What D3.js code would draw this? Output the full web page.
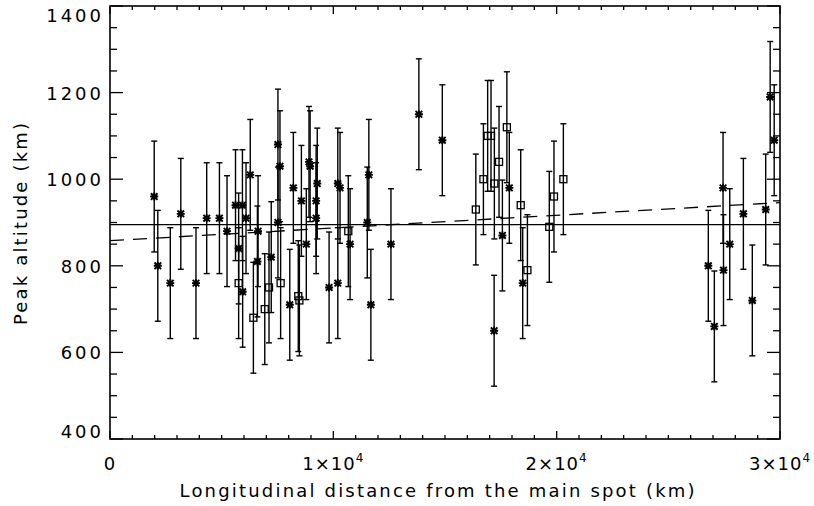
<!DOCTYPE html>
<html>
<head>
<meta charset="utf-8">
<script src="https://cdn.jsdelivr.net/npm/d3@7"></script>
<style>
  body { margin: 0; background: #fff; }
  text { font-family: "DejaVu Sans", sans-serif; fill: #000; }
</style>
</head>
<body>
<div id="container"></div>
<script>
// asterisk points: distance (km), peak altitude (km)
let starX = [1980, 2140, 2700, 3170, 3850, 4330, 4900, 5240, 5620, 5930, 5760, 5940,
  6090, 6280, 6630, 6600, 7220, 7520, 7610, 7520, 8050, 8210, 8570, 8790, 8910, 8960,
  9280, 9230, 9230, 9810, 10200, 10300, 10200, 10750, 11590, 11520, 11680, 12580,
  13830, 14880, 17880, 17570, 17200, 18480, 26790, 27060, 27450, 27470, 27750,
  28360, 28760, 29360, 29560, 29740];
let starY = [960, 800, 760, 920, 760, 910, 910, 880, 940, 940, 840, 740,
  910, 1010, 880, 810, 820, 1080, 1030, 900, 710, 980, 950, 850, 1040, 1030,
  990, 950, 910, 750, 990, 980, 760, 850, 1010, 900, 710, 850,
  1150, 1090, 980, 870, 650, 760, 800, 660, 980, 790, 850,
  920, 720, 930, 1190, 1090];
// square points
let squareX = [5760, 6420, 6930, 7120, 7640, 8430, 8480, 10670, 16380, 16720, 16910,
  17060, 17210, 17420, 17770, 18390, 18690, 19670, 19880, 20300];
let squareY = [760, 680, 700, 750, 760, 730, 720, 880, 930, 1000, 1100,
  1100, 990, 1040, 1120, 940, 790, 890, 960, 1000];
let errorBar = 128;          // +/- km on every point
let meanAltitude = 895;      // solid line
let fitLine = [[0, 858], [30000, 946]];  // dashed linear fit
let xTicks = [0, 10000, 20000, 30000];
let yTicks = [400, 600, 800, 1000, 1200, 1400];

let width = 814, height = 506;
let mLeft = 110, mRight = 780, mTop = 6, mBottom = 439;

let svg = d3.select('#container')
    .append("svg")
    .attr("width", width)
    .attr("height", height);

let x = d3.scaleLinear().domain([0, 30000]).range([mLeft, mRight]);
let y = d3.scaleLinear().domain([400, 1400]).range([mBottom, mTop]);

// frame
svg.append("rect")
    .attr("x", mLeft).attr("y", mTop)
    .attr("width", mRight - mLeft).attr("height", mBottom - mTop)
    .attr("fill", "none").attr("stroke", "#000").attr("stroke-width", 1.6);

// ticks on all four sides
let xMinor = d3.range(0, 30001, 1000);
let yMinor = d3.range(400, 1401, 50);
let ticks = svg.append("g").attr("stroke", "#000").attr("stroke-width", 1.3);
xMinor.forEach(v => {
    let len = v % 10000 === 0 ? 8 : 4;
    ticks.append("line").attr("x1", x(v)).attr("x2", x(v)).attr("y1", mBottom).attr("y2", mBottom - len);
    ticks.append("line").attr("x1", x(v)).attr("x2", x(v)).attr("y1", mTop).attr("y2", mTop + len);
});
yMinor.forEach(v => {
    let len = v % 200 === 0 ? 13 : 7;
    ticks.append("line").attr("y1", y(v)).attr("y2", y(v)).attr("x1", mLeft).attr("x2", mLeft + len);
    ticks.append("line").attr("y1", y(v)).attr("y2", y(v)).attr("x1", mRight).attr("x2", mRight - len);
});

// tick labels
let xl = svg.append("g")
    .selectAll("text")
    .data(xTicks)
    .enter()
    .append("text")
    .attr("x", d => x(d))
    .attr("y", 470)
    .attr("text-anchor", "middle")
    .attr("style", "font-size:18px;letter-spacing:1px");
xl.each(function (d) {
    let t = d3.select(this);
    if (d === 0) { t.text("0"); return; }
    t.append("tspan").text((d / 10000) + "×10");
    t.append("tspan").attr("dy", -8).attr("style", "font-size:12px").text("4");
});

svg.append("g")
    .selectAll("text")
    .data(yTicks)
    .enter()
    .append("text")
    .attr("x", 104)
    .attr("y", d => Math.min(Math.max(y(d), 15), 431) + 7)
    .attr("text-anchor", "end")
    .attr("style", "font-size:18px;letter-spacing:3px")
    .text(d => d);

// axis titles
svg.append("text")
    .attr("x", 437).attr("y", 497)
    .attr("text-anchor", "middle")
    .attr("textLength", 515).attr("lengthAdjust", "spacing")
    .attr("style", "font-size:18px")
    .text("Longitudinal distance from the main spot (km)");
svg.append("text")
    .attr("transform", "translate(27,224) rotate(-90)")
    .attr("text-anchor", "middle")
    .attr("textLength", 202).attr("lengthAdjust", "spacing")
    .attr("style", "font-size:18px")
    .text("Peak altitude (km)");

// fit lines
let plot = svg.append("g").attr("stroke", "#000").attr("fill", "none");
plot.append("line")
    .attr("x1", mLeft).attr("x2", mRight)
    .attr("y1", y(meanAltitude)).attr("y2", y(meanAltitude))
    .attr("stroke-width", 1.3);
plot.append("line")
    .attr("x1", x(fitLine[0][0])).attr("y1", y(fitLine[0][1]))
    .attr("x2", x(fitLine[1][0])).attr("y2", y(fitLine[1][1]))
    .attr("stroke-width", 1.3)
    .attr("stroke-dasharray", "14,9");

// error bars
let points = starX.map((v, i) => ({x: v, y: starY[i], kind: "star"}))
    .concat(squareX.map((v, i) => ({x: v, y: squareY[i], kind: "square"})));

let bars = plot.append("g").attr("stroke-width", 1.4);
points.forEach(p => {
    let px = x(p.x), hi = y(p.y + errorBar), lo = y(p.y - errorBar);
    bars.append("line").attr("x1", px).attr("x2", px).attr("y1", hi).attr("y2", lo);
    bars.append("line").attr("x1", px - 3).attr("x2", px + 3).attr("y1", hi).attr("y2", hi);
    bars.append("line").attr("x1", px - 3).attr("x2", px + 3).attr("y1", lo).attr("y2", lo);
});

// markers
let r = 4, rd = 3.3;
plot.append("g")
    .selectAll("path")
    .data(points.filter(p => p.kind === "star"))
    .enter()
    .append("path")
    .attr("stroke-width", 1.9)
    .attr("d", d => {
        let px = x(d.x), py = y(d.y);
        return "M" + (px - r) + "," + py + "H" + (px + r) +
            "M" + px + "," + (py - r) + "V" + (py + r) +
            "M" + (px - rd) + "," + (py - rd) + "L" + (px + rd) + "," + (py + rd) +
            "M" + (px - rd) + "," + (py + rd) + "L" + (px + rd) + "," + (py - rd);
    });
plot.append("g")
    .selectAll("rect")
    .data(points.filter(p => p.kind === "square"))
    .enter()
    .append("rect")
    .attr("x", d => x(d.x) - 3.5)
    .attr("y", d => y(d.y) - 3.5)
    .attr("width", 7).attr("height", 7)
    .attr("stroke-width", 1.3);
</script>
</body>
</html>
